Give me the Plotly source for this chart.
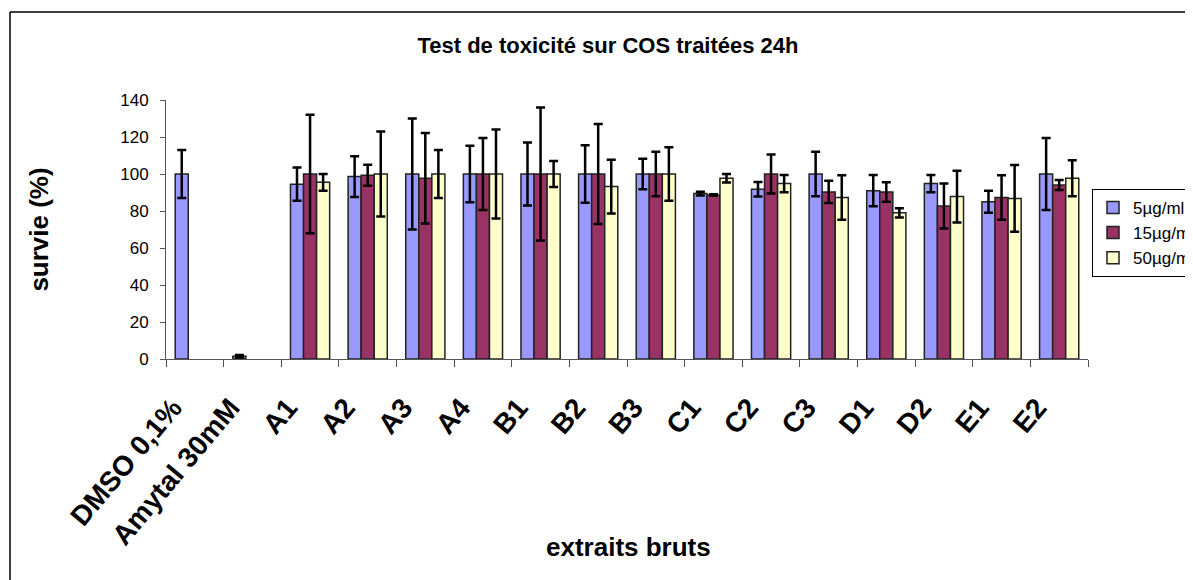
import plotly.graph_objects as go

categories = ["DMSO 0,1%", "Amytal 30mM", "A1", "A2", "A3", "A4", "B1", "B2",
              "B3", "C1", "C2", "C3", "D1", "D2", "E1", "E2"]

series_names = ["5µg/ml", "15µg/ml", "50µg/ml"]

v5 = [100, 1.5, 94.5, 98.6, 100, 100, 100, 100, 100, 89.4, 91.8, 100, 91, 94.8, 85, 100]
e5 = [13, 0.7, 9, 11, 30, 15.3, 17, 15.6, 8.3, 1, 3.9, 12, 8.4, 4.6, 6, 19.5]

v15 = [None, None, 100, 99.3, 97.7, 100, 100, 100, 100, 88.7, 100, 90.3, 90.3, 82.7, 87.3, 94]
e15 = [None, None, 32, 5.7, 24.4, 19.5, 36, 27, 12, 0.4, 10.5, 6, 5.3, 12.1, 12, 2.7]

v50 = [None, None, 95.5, 100, 100, 100, 100, 93.2, 100, 97.7, 94.8, 87.3, 79, 87.8, 86.8, 97.7]
e50 = [None, None, 4.5, 23, 13, 24, 7, 14.5, 14.5, 2.3, 4.6, 12, 2.5, 14, 18, 9.7]

colors = ["#9999FF", "#993366", "#FFFFCC"]

FONT = "Liberation Sans, Arial, sans-serif"

fig = go.Figure()
for name, vals, errs, col in zip(series_names, [v5, v15, v50], [e5, e15, e50], colors):
    fig.add_trace(go.Bar(
        name=name, x=categories, y=vals,
        marker=dict(color=col, line=dict(color="#222222", width=1.5)),
        error_y=dict(type="data", array=errs, visible=True, color="black",
                     thickness=2.5, width=4.5),
    ))

# page body has an 8px margin: work in page pixels, convert to figure pixels
OFF = 8
W, H = 1193 - OFF, 580 - OFF
L, R, T, B = 166 - OFF, 1088 - OFF, 100 - OFF, 359.3 - OFF
pw, ph = R - L, B - T

def px_x(x):
    return (x - OFF - L) / pw

def px_y(y):
    return (B - (y - OFF)) / ph

fig.update_layout(
    width=W, height=H,
    margin=dict(l=L, r=W - R, t=T, b=H - B, autoexpand=False),
    paper_bgcolor="white", plot_bgcolor="white",
    barmode="group", bargap=0.32, bargroupgap=0,
    font=dict(family=FONT, color="black"),
    title=dict(text="Test de toxicité sur COS traitées 24h",
               font=dict(family=FONT, size=22, weight="bold", color="black"),
               x=(608 - OFF) / W, xref="container", xanchor="center",
               y=1 - (45.5 - OFF) / H, yref="container", yanchor="middle"),
    showlegend=True,
    legend=dict(x=px_x(1092), y=px_y(189), xanchor="left", yanchor="top",
                bordercolor="black", borderwidth=1, bgcolor="white",
                font=dict(family=FONT, size=17, color="black"),
                tracegroupgap=0),
    xaxis=dict(type="category", showline=True, linecolor="#555555", linewidth=1,
               ticks="outside", tickson="boundaries", ticklen=7, tickcolor="#555555",
               tickangle=-50, ticklabelstandoff=20, ticklabelshift=-22,
               tickfont=dict(family=FONT, size=28, weight="bold", color="black"),
               showgrid=False, zeroline=False),
    yaxis=dict(range=[0, 140], dtick=20, showline=True, linecolor="#555555", linewidth=1,
               ticks="outside", ticklen=5, tickcolor="#555555",
               tickfont=dict(family=FONT, size=17, color="black"),
               ticklabelstandoff=8,
               showgrid=False, zeroline=False,
               automargin=True,
               title=dict(text="survie (%)", standoff=64,
                          font=dict(family=FONT, size=26, weight="bold", color="black"))),
    annotations=[dict(text="extraits bruts", xref="paper", yref="paper",
                      x=px_x(628), y=px_y(548), xanchor="center", yanchor="middle",
                      showarrow=False,
                      font=dict(family=FONT, size=26, weight="bold", color="black"))],
    shapes=[
        dict(type="line", xref="paper", yref="paper",
             x0=px_x(10), x1=px_x(10), y0=px_y(12), y1=px_y(600),
             line=dict(color="black", width=1.5)),
        dict(type="line", xref="paper", yref="paper",
             x0=px_x(10), x1=px_x(1210), y0=px_y(12), y1=px_y(12),
             line=dict(color="black", width=1.5)),
    ],
)

fig.write_html("out.html")
